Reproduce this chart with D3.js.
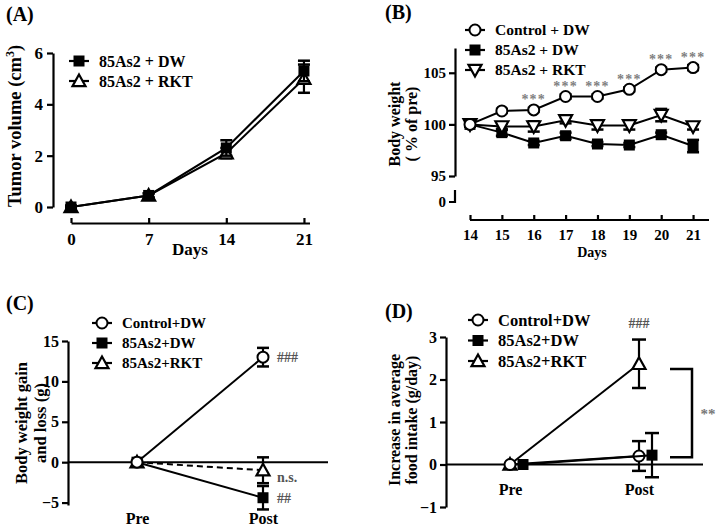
<!DOCTYPE html>
<html><head><meta charset="utf-8">
<script src="https://cdn.jsdelivr.net/npm/d3@7"></script>
<style>
body{margin:0;background:#fff}
svg text{font-family:"Liberation Serif","Times New Roman",serif;font-weight:bold;fill:#000}
</style>
</head><body><svg id="c" width="716" height="529"></svg>
<script>
// ---------- DATA ----------
// Panel A
const daysA = [0, 7, 14, 21];
const tumorDW = [0, 0.45, 2.3, 5.3];
const tumorDWErr = [0.05, 0.08, 0.3, 0.4];
const tumorRKT = [0, 0.45, 2.1, 5.0];
const tumorRKTErr = [0.05, 0.08, 0.2, 0.55];
const labelsA = ["85As2 + DW", "85As2 + RKT"];
const yTicksA = [0, 2, 4, 6];
// Panel B
const daysB = [14, 15, 16, 17, 18, 19, 20, 21];
const bwControl = [100, 101.3, 101.4, 102.7, 102.7, 103.4, 105.3, 105.5];
const bwControlErr = [0.2, 0.2, 0.2, 0.2, 0.2, 0.2, 0.2, 0.25];
const bwDW = [100, 99.2, 98.2, 98.9, 98.1, 98.0, 99.0, 97.9];
const bwDWErr = [0.2, 0.3, 0.2, 0.3, 0.2, 0.2, 0.2, 0.6];
const bwRKT = [100, 99.8, 99.8, 100.4, 99.9, 99.9, 100.9, 99.8];
const bwRKTErr = [0.2, 0.3, 0.5, 0.3, 0.4, 0.4, 0.6, 0.3];
const starsB = ["", "", "***", "***", "***", "***", "***", "***"];
const labelsB = ["Control + DW", "85As2 + DW", "85As2 + RKT"];
const yTicksB = [95, 100, 105];
// Panel C
const phases = ["Pre", "Post"];
const gainControl = [0, 13.0];
const gainControlErr = [0, 1.15];
const gainDW = [0, -4.4];
const gainDWErr = [0, 1.45];
const gainRKT = [0, -1.0];
const gainRKTErr = [0, 1.6];
const annotC = ["###", "##", "n.s."];
const labelsCD = ["Control+DW", "85As2+DW", "85As2+RKT"];
const yTicksC = [-5, 0, 5, 10, 15];
// Panel D
const foodControl = [0, 0.2];
const foodControlErr = [0, 0.35];
const foodDW = [0, 0.22];
const foodDWErr = [0, 0.52];
const foodRKT = [0, 2.37];
const foodRKTErr = [0, 0.57];
const bracketD = [2.25, 0.17];
const yTicksD = [-1, 0, 1, 2, 3];

// ---------- HELPERS ----------
const svg = d3.select("#c");
const fmt = d3.format("d");

function marker(g, type, x, y, s) {
  s = s || 1;
  if (type === "circle") {
    g.append("circle").attr("cx", x).attr("cy", y).attr("r", 5.5 * s)
      .attr("fill", "#fff").attr("stroke", "#000").attr("stroke-width", 2);
  } else if (type === "square") {
    const h = 5.5 * s;
    g.append("rect").attr("x", x - h).attr("y", y - h).attr("width", 2 * h).attr("height", 2 * h)
      .attr("fill", "#000");
  } else if (type === "tri") {
    const h = 6.5 * s;
    g.append("path").attr("d", `M${x},${y - h}L${x + h},${y + h * 0.8}L${x - h},${y + h * 0.8}Z`)
      .attr("fill", "#fff").attr("stroke", "#000").attr("stroke-width", 2.2);
  } else if (type === "tridown") {
    const h = 6.5 * s;
    g.append("path").attr("d", `M${x},${y + h}L${x + h},${y - h * 0.8}L${x - h},${y - h * 0.8}Z`)
      .attr("fill", "#fff").attr("stroke", "#000").attr("stroke-width", 2.2);
  }
}

function series(g, xs, ys, errs, xScale, yScale, type, opts) {
  opts = opts || {};
  const dx = opts.dx || 0;
  const pts = xs.map((d, i) => [xScale(d) + dx, yScale(ys[i]), errs[i]]);
  g.append("path").attr("d", d3.line()(pts.map(p => [p[0], p[1]])))
    .attr("fill", "none").attr("stroke", "#000").attr("stroke-width", opts.lw || 2)
    .attr("stroke-dasharray", opts.dash || null);
  pts.forEach((p, i) => {
    const e = errs[i];
    if (e > 0) {
      const y1 = yScale(ys[i] + e), y2 = yScale(ys[i] - e);
      const cw = opts.cap || 6;
      g.append("line").attr("x1", p[0]).attr("x2", p[0]).attr("y1", y1).attr("y2", y2)
        .attr("stroke", "#000").attr("stroke-width", 2.2);
      [y1, y2].forEach(yy => g.append("line").attr("x1", p[0] - cw).attr("x2", p[0] + cw)
        .attr("y1", yy).attr("y2", yy).attr("stroke", "#000").attr("stroke-width", 2.5));
    }
  });
  pts.forEach(p => marker(g, type, p[0], p[1], opts.ms));
}

function legend(g, x, y, dy, labels, types, fs) {
  labels.forEach((l, i) => {
    const yy = y + i * dy;
    g.append("line").attr("x1", x - 10).attr("x2", x + 10).attr("y1", yy).attr("y2", yy)
      .attr("stroke", "#000").attr("stroke-width", 2.2);
    marker(g, types[i], x, yy, 1);
    g.append("text").attr("x", x + 20).attr("y", yy).attr("dy", "0.35em")
      .attr("font-size", fs).text(l);
  });
}

function styleAxis(sel, fs) {
  sel.attr("font-family", null);
  sel.selectAll("path.domain").attr("stroke", "#000").attr("stroke-width", 2.2);
  sel.selectAll(".tick line").attr("stroke", "#000").attr("stroke-width", 2.2);
  sel.selectAll(".tick text").attr("font-size", fs).attr("fill", "#000");
}

// ---------- PANEL A ----------
{
  const g = svg.append("g");
  const x = d3.scaleLinear().domain([0, 21.5]).range([71, 309.5]);
  const y = d3.scaleLinear().domain([0, 6]).range([207, 53]);
  const ax = g.append("g").attr("transform", "translate(0,223)")
    .call(d3.axisBottom(x).tickValues(daysA).tickFormat(fmt).tickSize(-5).tickSizeOuter(0).tickPadding(10));
  styleAxis(ax, 17);
  const ay = g.append("g").attr("transform", "translate(53,0)")
    .call(d3.axisLeft(y).tickValues(yTicksA).tickFormat(fmt).tickSize(6).tickSizeOuter(0).tickPadding(4));
  styleAxis(ay, 17);
  series(g, daysA, tumorRKT, tumorRKTErr, x, y, "tri", { cap: 6 });
  series(g, daysA, tumorDW, tumorDWErr, x, y, "square", { cap: 6 });
  legend(g, 79, 61, 20, labelsA, ["square", "tri"], 16);
  g.append("text").attr("x", 6).attr("y", 21).attr("font-size", 20).text("(A)");
  g.append("text").attr("x", 190).attr("y", 255).attr("text-anchor", "middle").attr("font-size", 17).text("Days");
  const yl = g.append("text").attr("transform", "translate(21,126) rotate(-90)")
    .attr("text-anchor", "middle").attr("font-size", 18.5);
  yl.append("tspan").text("Tumor volume  (cm");
  yl.append("tspan").attr("dy", -7).attr("font-size", 12).text("3");
  yl.append("tspan").attr("dy", 7).text(")");
}

// ---------- PANEL B ----------
{
  const g = svg.append("g");
  const x = d3.scaleLinear().domain([14, 21.5]).range([470, 709]);
  const y = d3.scaleLinear().domain([95, 107.4]).range([176, 48]);
  const ax = g.append("g").attr("transform", "translate(0,220)")
    .call(d3.axisBottom(x).tickValues(daysB).tickFormat(fmt).tickSize(-5).tickSizeOuter(0).tickPadding(9));
  styleAxis(ax, 15);
  ax.select("path.domain").attr("d", `M${x(14)},0H${x(21.5)}`);
  const ay = g.append("g").attr("transform", "translate(455,0)")
    .call(d3.axisLeft(y).tickValues(yTicksB).tickFormat(fmt).tickSize(6).tickSizeOuter(0).tickPadding(3));
  styleAxis(ay, 15);
  // broken-axis stub for 0
  g.append("path").attr("d", "M455,190V202H449").attr("fill", "none").attr("stroke", "#000").attr("stroke-width", 2.2);
  g.append("text").attr("x", 446).attr("y", 202).attr("dy", "0.35em").attr("text-anchor", "end")
    .attr("font-size", 15).text("0");
  series(g, daysB, bwDW, bwDWErr, x, y, "square", { cap: 6 });
  series(g, daysB, bwRKT, bwRKTErr, x, y, "tridown", { cap: 6 });
  series(g, daysB, bwControl, bwControlErr, x, y, "circle", { cap: 6 });
  daysB.forEach((d, i) => {
    if (starsB[i]) g.append("text").attr("x", x(d)).attr("y", y(bwControl[i]) - 5.5)
      .attr("text-anchor", "middle").attr("font-size", 14).attr("font-weight", "normal")
      .attr("letter-spacing", 1.2).style("fill", "#808080").text(starsB[i]);
  });
  legend(g, 475, 30, 20, labelsB, ["circle", "square", "tridown"], 15.5);
  g.append("text").attr("x", 385).attr("y", 19).attr("font-size", 20).text("(B)");
  g.append("text").attr("x", 592).attr("y", 257).attr("text-anchor", "middle").attr("font-size", 14).text("Days");
  const yl = g.append("text").attr("transform", "translate(400,124) rotate(-90)")
    .attr("text-anchor", "middle").attr("font-size", 16);
  yl.append("tspan").attr("x", 0).attr("dy", 0).text("Body weight");
  yl.append("tspan").attr("x", 0).attr("dy", 17).text("( % of pre)");
}

// ---------- PANEL C ----------
{
  const g = svg.append("g");
  const x = d3.scalePoint().domain(phases).range([137, 263]);
  const y = d3.scaleLinear().domain([-5.3, 15]).range([505, 341]);
  const ay = g.append("g").attr("transform", "translate(68,0)")
    .call(d3.axisLeft(y).tickValues(yTicksC).tickFormat(fmt).tickSize(6).tickSizeOuter(0).tickPadding(3));
  styleAxis(ay, 16);
  g.append("line").attr("x1", 68).attr("x2", 328).attr("y1", y(0)).attr("y2", y(0))
    .attr("stroke", "#000").attr("stroke-width", 2);
  const ax = g.append("g").attr("transform", "translate(0,503)")
    .call(d3.axisBottom(x).tickSize(0).tickPadding(10));
  ax.select("path.domain").remove();
  styleAxis(ax, 16);
  series(g, phases, gainRKT, gainRKTErr, x, y, "tri", { dash: "6,4", cap: 6 });
  series(g, phases, gainDW, gainDWErr, x, y, "square", { cap: 6 });
  series(g, phases, gainControl, gainControlErr, x, y, "circle", { cap: 6 });
  const ann = [[gainControl[1], annotC[0]], [gainDW[1], annotC[1]], [gainRKT[1] - 0.8, annotC[2]]];
  ann.forEach(a => g.append("text").attr("x", 277).attr("y", y(a[0])).attr("dy", "0.35em")
    .attr("font-size", 14).attr("font-weight", "normal").style("fill", "#555").text(a[1]));
  legend(g, 102, 323, 20, labelsCD, ["circle", "square", "tri"], 15);
  g.append("text").attr("x", 6).attr("y", 310).attr("font-size", 20).text("(C)");
  const yl = g.append("text").attr("transform", "translate(27,423) rotate(-90)")
    .attr("text-anchor", "middle").attr("font-size", 16.5);
  yl.append("tspan").attr("x", 0).attr("dy", 0).text("Body weight gain");
  yl.append("tspan").attr("x", 0).attr("dy", 19).text("and loss (g)");
}

// ---------- PANEL D ----------
{
  const g = svg.append("g");
  const x = d3.scalePoint().domain(phases).range([510, 639]);
  const y = d3.scaleLinear().domain([-1, 3]).range([507, 337]);
  const ay = g.append("g").attr("transform", "translate(446,0)")
    .call(d3.axisLeft(y).tickValues(yTicksD).tickFormat(fmt).tickSize(6).tickSizeOuter(0).tickPadding(3));
  styleAxis(ay, 16);
  g.append("line").attr("x1", 446).attr("x2", 703).attr("y1", y(0)).attr("y2", y(0))
    .attr("stroke", "#000").attr("stroke-width", 2);
  const ax = g.append("g").attr("transform", `translate(0,${y(0)})`)
    .call(d3.axisBottom(x).tickSize(0).tickPadding(19));
  ax.select("path.domain").remove();
  styleAxis(ax, 16);
  series(g, phases, foodRKT, foodRKTErr, x, y, "tri", { cap: 7 });
  series(g, phases, foodControl, foodControlErr, x, y, "circle", { cap: 7 });
  series(g, phases, foodDW, foodDWErr, x, y, "square", { cap: 7, dx: 13 });
  g.append("text").attr("x", x("Post")).attr("y", y(foodRKT[1] + foodRKTErr[1]) - 12)
    .attr("text-anchor", "middle").attr("font-size", 14).attr("font-weight", "normal")
    .style("fill", "#555").text("###");
  g.append("path")
    .attr("d", `M670,${y(bracketD[0])}H692V${y(bracketD[1])}H670`)
    .attr("fill", "none").attr("stroke", "#000").attr("stroke-width", 2.5);
  g.append("text").attr("x", 708).attr("y", (y(bracketD[0]) + y(bracketD[1])) / 2 + 6)
    .attr("text-anchor", "middle").attr("font-size", 15).attr("font-weight", "normal")
    .style("fill", "#777").text("**");
  legend(g, 478, 320, 20.5, labelsCD, ["circle", "square", "tri"], 16.5);
  g.append("text").attr("x", 385).attr("y", 318).attr("font-size", 20).text("(D)");
  const yl = g.append("text").attr("transform", "translate(400,420) rotate(-90)")
    .attr("text-anchor", "middle").attr("font-size", 16);
  yl.append("tspan").attr("x", 0).attr("dy", 0).text("Increase in average");
  yl.append("tspan").attr("x", 0).attr("dy", 17).text("food intake (g/day)");
}
</script>
</body></html>
